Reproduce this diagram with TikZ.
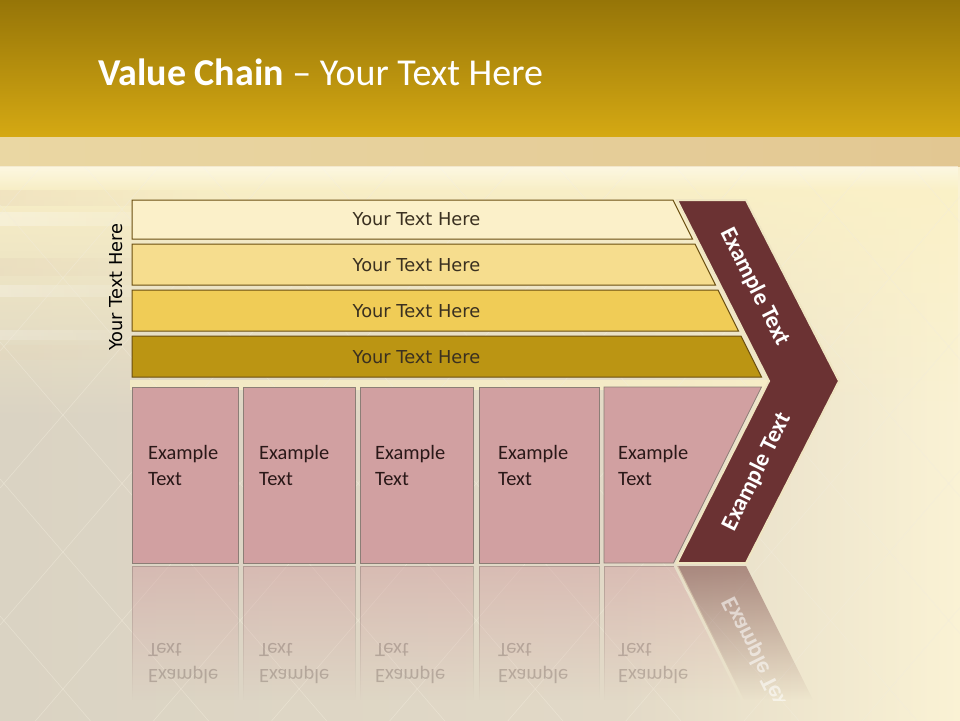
\documentclass[tikz,border=0pt]{standalone}
\usepackage{fontspec}
\setmainfont{Carlito}
\newfontfamily\dvs{DejaVu Sans}
\usetikzlibrary{fadings}
\tikzfading[name=fadedown, top color=transparent!0, bottom color=transparent!100]
\tikzfading[name=faderight, left color=transparent!0, right color=transparent!100]
\tikzfading[name=fadecenter, left color=transparent!100, middle color=transparent!0, right color=transparent!100]
\tikzfading[name=reflfade, top color=transparent!50, bottom color=transparent!100]
\definecolor{hdrtop}{HTML}{967508}
\definecolor{hdrbot}{HTML}{D5A913}
\definecolor{bandL}{HTML}{EAD7A3}
\definecolor{bandR}{HTML}{E2C792}
\definecolor{bgL}{HTML}{DAD3C3}
\definecolor{bgM}{HTML}{E2D9C7}
\definecolor{bgR}{HTML}{FAF2D4}
\definecolor{bgcream}{HTML}{FBF1C6}
\definecolor{rowA}{HTML}{FBF0C9}
\definecolor{rowB}{HTML}{F6DD8E}
\definecolor{rowC}{HTML}{F0CC56}
\definecolor{rowD}{HTML}{BB9513}
\definecolor{rowline}{HTML}{6A4E10}
\definecolor{rowtext}{HTML}{3A3020}
\definecolor{pinkfill}{HTML}{D1A0A1}
\definecolor{pinkline}{HTML}{8C7E76}
\definecolor{pinktext}{HTML}{2A1818}
\definecolor{maroon}{HTML}{6B3233}
\definecolor{creamedge}{HTML}{EFE5C2}
\definecolor{latt}{HTML}{F2ECDC}
\definecolor{streak}{HTML}{E6D3B8}
\definecolor{glow}{HTML}{E8B48A}
\begin{document}
\begin{tikzpicture}[x=1pt,y=-1pt,
  rowbox/.style={draw=rowline, line width=1pt},
  rowlabel/.style={font=\dvs\fontsize{17.8}{20}\selectfont, text=rowtext, inner sep=0pt},
  pinkbox/.style={fill=pinkfill, draw=pinkline, line width=0.8pt},
  pinklabel/.style={font=\fontsize{20.4}{24}\selectfont, text=pinktext, anchor=base west, inner sep=0pt},
  chevlabel/.style={font=\bfseries\fontsize{23.5}{26}\selectfont, text=white, inner sep=0pt},
  refl/.style={path fading=reflfade},
  refltext/.style={font=\fontsize{20.4}{24}\selectfont, text=pinktext, anchor=base west, inner sep=0pt, opacity=0.22, yscale=-1}
]
\useasboundingbox (0,0) rectangle (960,720);
% ---------- background ----------
\shade[left color=bgL, right color=bgM] (0,137) rectangle (621,720);
\shade[left color=bgM, right color=bgR] (620,137) rectangle (960,720);
\fill[bgcream, path fading=fadedown] (0,165) rectangle (960,420);
\fill[bgcream, opacity=0.7] (130,380) rectangle (780,390);
\fill[white, opacity=0.55, path fading=fadecenter] (840,165) rectangle (905,720);
\fill[white, opacity=0.35, path fading=fadecenter] (900,165) rectangle (940,720);
% faint diagonal light streak
\begin{scope}
  \clip (0,380) rectangle (960,720);
  \fill[glow, opacity=0.25, path fading=fadecenter, rotate around={-62:(640,640)}] (560,628) rectangle (720,652);
\end{scope}
% left streaks
\fill[white, opacity=0.3, path fading=faderight] (0,212) rectangle (230,226);
\fill[white, opacity=0.25, path fading=faderight] (0,285) rectangle (200,297);
\fill[white, opacity=0.2, path fading=faderight] (0,330) rectangle (180,340);
\fill[streak, opacity=0.35, path fading=faderight] (0,190) rectangle (220,206);
\fill[streak, opacity=0.3, path fading=faderight] (0,258) rectangle (200,276);
\fill[streak, opacity=0.25, path fading=faderight] (0,345) rectangle (160,360);
% lattice
\begin{scope}
  \clip (0,137) rectangle (960,720);
  \foreach \c in {-1165,-1028,...,700} \draw[latt, opacity=0.5, line width=0.6pt] (0,\c) -- (960,\c+1113.6);
  \foreach \d in {77,214,...,1900} \draw[latt, opacity=0.5, line width=0.6pt] (0,\d) -- (960,\d-1113.6);
\end{scope}
% header
\shade[top color=hdrtop, bottom color=hdrbot] (0,0) rectangle (960,137);
\shade[left color=bandL, right color=bandR] (0,137) rectangle (960,166);
\fill[white, opacity=0.5, path fading=fadedown] (0,166) rectangle (960,190);
\node[anchor=base west, text=white, inner sep=0pt, font=\fontsize{38}{42}\selectfont] (title) at (98,85) {\textbf{Value Chain} – Your Text Here};
% ---------- rows ----------
\draw[rowbox, fill=rowA] (132,200) -- (673,200) -- (692.5,239) -- (132,239) -- cycle;
\draw[rowbox, fill=rowB] (132,244) -- (695,244) -- (715.5,285) -- (132,285) -- cycle;
\draw[rowbox, fill=rowC] (132,290) -- (718,290) -- (738.5,331) -- (132,331) -- cycle;
\draw[rowbox, fill=rowD] (132,336) -- (741,336) -- (761.5,377) -- (132,377) -- cycle;
\node[rowlabel] (r1) at (416.5,219.5) {Your Text Here};
\node[rowlabel] (r2) at (416.5,265) {Your Text Here};
\node[rowlabel] (r3) at (416.5,311) {Your Text Here};
\node[rowlabel] (r4) at (416.5,357) {Your Text Here};
\node[font=\dvs\fontsize{17.8}{20}\selectfont, text=black, rotate=90, inner sep=0pt] (side) at (116,287) {Your Text Here};
% ---------- pink boxes ----------
\draw[pinkbox] (132,387) rectangle (238,563);
\draw[pinkbox] (243,387) rectangle (355,563);
\draw[pinkbox] (360,387) rectangle (473,563);
\draw[pinkbox] (479,387) rectangle (599,563);
\draw[pinkbox] (604,387) -- (761.5,387) -- (673.5,563) -- (604,563) -- cycle;
\foreach \x/\n in {148/1,259/2,375/3,498/4,618/5}{
  \node[pinklabel] (pa\n) at (\x,459) {Example};
  \node[pinklabel] (pb\n) at (\x,485) {Text};
}
% ---------- chevron ----------
\draw[creamedge, line width=2pt, fill=maroon, line join=miter]
  (677,200) -- (746,200) -- (839,381) -- (746,563) -- (677,563) -- (769,381) -- cycle;
\node[chevlabel, rotate=-63.4] (cu) at (755,287) {Example Text};
\node[chevlabel, rotate=63.4] (cl) at (757,472) {Example Text};
% ---------- reflection ----------
\fill[pinkfill, refl] (132,566) rectangle (238,700);
\fill[pinkfill, refl] (243,566) rectangle (355,700);
\fill[pinkfill, refl] (360,566) rectangle (473,700);
\fill[pinkfill, refl] (479,566) rectangle (599,700);
\fill[pinkfill, refl] (604,566) -- (673.5,566) -- (740.5,700) -- (604,700) -- cycle;
\draw[pinkline, refl, line width=0.6pt] (132,700) -- (132,566) -- (238,566) -- (238,700);
\draw[pinkline, refl, line width=0.6pt] (243,700) -- (243,566) -- (355,566) -- (355,700);
\draw[pinkline, refl, line width=0.6pt] (360,700) -- (360,566) -- (473,566) -- (473,700);
\draw[pinkline, refl, line width=0.6pt] (479,700) -- (479,566) -- (599,566) -- (599,700);
\draw[pinkline, refl, line width=0.6pt] (604,700) -- (604,566) -- (673.5,566);
\fill[maroon, path fading=reflfade] (677,566) -- (746,566) -- (813,700) -- (744,700) -- cycle;
\draw[creamedge, line width=2pt, path fading=reflfade] (677,566) -- (744,700);
\foreach \x/\n in {148/1,259/2,375/3,498/4,618/5}{
  \node[refltext] (ra\n) at (\x,669) {Example};
  \node[refltext] (rb\n) at (\x,643) {Text};
}
\begin{scope}
  \clip (677,566) -- (746,566) -- (813,700) -- (744,700) -- cycle;
  \node[chevlabel, rotate=-63.4, yscale=-1, opacity=0.55] (cr) at (757,656) {Example Text};
\end{scope}
\end{tikzpicture}
\end{document}
